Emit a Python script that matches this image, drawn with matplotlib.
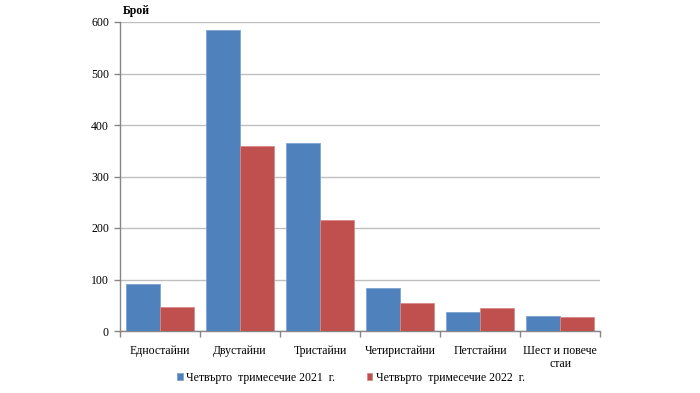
import matplotlib
matplotlib.use("Agg")
import matplotlib.pyplot as plt
import numpy as np

categories = ["Едностайни", "Двустайни", "Тристайни", "Четиристайни", "Петстайни", "Шест и повече\nстаи"]
q4_2021 = [91, 584, 366, 83, 36, 30]
q4_2022 = [46, 359, 215, 55, 44, 28]
series_labels = ["Четвърто  тримесечие 2021  г.", "Четвърто  тримесечие 2022  г."]
yticks = [0, 100, 200, 300, 400, 500, 600]

plt.rcParams['font.family'] = ['Liberation Serif', 'DejaVu Serif']

fig = plt.figure(figsize=(7.0, 3.93), dpi=100)
ax = fig.add_axes([120/700, 62/393, 480/700, 309/393])

x = np.arange(len(categories))
w = 0.42
b1 = ax.bar(x - w/2, q4_2021, w, color="#4F81BD", edgecolor="#7FA3D3", linewidth=0.6, label=series_labels[0], zorder=3)
b2 = ax.bar(x + w/2, q4_2022, w, color="#C0504D", edgecolor="#D68A88", linewidth=0.6, label=series_labels[1], zorder=3)

ax.set_xlim(-0.5, len(categories) - 0.5)
ax.set_ylim(0, 600)
ax.set_yticks(yticks)
ax.set_yticklabels([str(v) for v in yticks], fontsize=8.5)
ax.yaxis.grid(True, color="#BFBFBF", linewidth=1.0, zorder=0)
ax.set_axisbelow(True)

ax.set_xticks(x)
ax.set_xticklabels(categories, fontsize=8.5, linespacing=1.1)
ax.tick_params(axis='x', length=0, pad=10)
ax.set_xticks(np.arange(-0.5, len(categories)), minor=True)
ax.tick_params(axis='x', which='minor', length=4, color="#868686", width=1)
ax.tick_params(axis='y', length=4, color="#868686", width=1, pad=4)

for s in ['top', 'right']:
    ax.spines[s].set_visible(False)
for s in ['left', 'bottom']:
    ax.spines[s].set_color("#868686")
    ax.spines[s].set_linewidth(1.0)

fig.text(123/700, 1 - 11/393, "Брой", fontsize=8.5, fontweight='bold', va='center', ha='left')

fig.legend(handles=[b1, b2], labels=series_labels, loc='center', bbox_to_anchor=(351/700, 1 - 378/393),
           ncol=2, frameon=False, fontsize=8.5, handlelength=0.45, handleheight=0.5,
           columnspacing=2.7, handletextpad=0.3)

fig.savefig("out.png", dpi=100)
